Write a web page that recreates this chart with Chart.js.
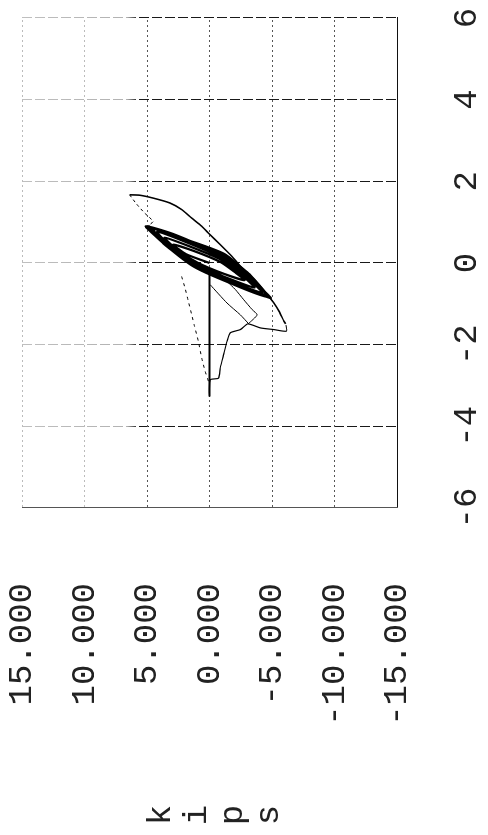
<!DOCTYPE html>
<html>
<head>
<meta charset="utf-8">
<script src="https://cdn.jsdelivr.net/npm/chart.js@4.4.1/dist/chart.umd.min.js"></script>
<style>
  html, body { margin: 0; padding: 0; background: #fff; overflow: hidden; }
  /* o grafico e desenhado deitado e girado 90 graus */
  #quadro {
    position: absolute; left: 0; top: 835px;
    width: 835px; height: 488px;
    transform-origin: 0 0;
    transform: rotate(-90deg);
  }
</style>
</head>
<body>
<div id="quadro"><canvas id="histerese" width="835" height="488"></canvas></div>
<script>
const X_TICKS = [-6, -4, -2, 0, 2, 4, 6];
const Y_TICKS = [-15, -10, -5, 0, 5, 10, 15];
const TITULO_Y = ['k', 'i', 'p', 's'];

// [deslocamento (in), carga (kips)]
const ciclosPequenos = [
  [0, 0], [0.22, 1.9], [0.45, 2.9], [0.30, 1.3], [0.02, -0.9], [-0.24, -2.1], [-0.42, -2.8], [-0.27, -1.2], [0.0, 0.9], [0.30, 2.5],
  [0.62, 3.6], [0.42, 1.7], [0.10, -0.8], [-0.30, -2.6], [-0.60, -3.6], [-0.40, -1.7], [-0.05, 1.0], [0.36, 2.9],
  [0.76, 4.2], [0.54, 2.1], [0.14, -0.9], [-0.35, -3.0], [-0.72, -4.2], [-0.50, -2.1], [-0.08, 1.1], [0.42, 3.3],
  [0.86, 4.8], [0.62, 2.5], [0.20, -1.0], [-0.40, -3.4], [-0.80, -4.6], [-0.57, -2.3], [-0.10, 1.2], [0.46, 3.6],
  [0.88, 5.0], [0.66, 2.7], [0.22, -1.2], [-0.42, -3.6], [-0.83, -4.7], [-0.60, -2.5], [-0.12, 1.0], [0.48, 3.7],
  [0.84, 4.5], [0.70, 3.2], [0.35, 0.2], [-0.10, -2.2], [-0.55, -3.9], [-0.78, -4.5], [-0.62, -3.0], [-0.25, -0.6], [0.15, 1.9], [0.55, 3.9],
  [0.90, 5.1], [0.72, 3.0], [0.30, -0.2], [-0.20, -2.7], [-0.70, -4.4], [-0.86, -4.9], [-0.66, -3.2], [-0.30, -0.9], [0.10, 1.6], [0.60, 4.0], [0.92, 4.9]
];
const escorregamento = [[-0.2, 0], [-3.27, 0]];
const retorno = [
  [-3.27, 0], [-2.86, -0.05], [-2.82, -0.72], [-2.57, -0.86], [-2.24, -1.13], [-1.92, -1.40], [-1.71, -1.66],
  [-1.63, -2.47], [-1.49, -3.06], [-1.59, -4.08], [-1.63, -5.15], [-1.67, -6.15], [-1.52, -6.12]
];
const envoltoria = [
  [-1.49, -6.09], [-1.43, -5.96], [-1.18, -5.56], [-0.98, -5.15], [-0.78, -4.62], [-0.57, -4.08], [-0.29, -3.28],
  [-0.08, -2.47], [0.16, -1.80], [0.45, -0.86], [0.73, 0.08], [0.90, 0.62], [1.10, 1.42], [1.31, 2.23],
  [1.47, 3.17], [1.59, 4.51], [1.66, 5.58], [1.67, 6.39]
];
const descarga = [[1.67, 6.39], [1.45, 5.85], [1.22, 5.18], [1.02, 4.51], [0.94, 4.78]];
const diagonal = [
  [-0.33, 2.23], [-0.61, 1.96], [-0.94, 1.69], [-1.27, 1.42], [-1.51, 1.23], [-1.92, 0.89], [-2.33, 0.62], [-2.65, 0.35], [-2.90, 0.08]
];
const ramoV1 = [[-0.53, -0.05], [-0.98, -1.40], [-1.27, -2.47], [-1.49, -3.14]];
const ramoV2 = [[-1.49, -3.10], [-1.27, -3.81], [-1.14, -3.41], [-0.90, -2.74], [-0.65, -2.07], [-0.45, -1.40]];

const pontos = arr => arr.map(p => ({ x: p[0], y: p[1] }));

function serie(arr, largura, tracejado) {
  return {
    data: pontos(arr),
    showLine: true,
    borderColor: '#000',
    borderWidth: largura,
    borderDash: tracejado || [],
    pointRadius: 0,
    tension: 0.2,
    fill: false
  };
}

// linhas verticais mais apagadas na parte de cima do grafico
function corGradeX(ctx) {
  const area = ctx.chart.chartArea;
  if (!area) return '#111';
  const g = ctx.chart.ctx.createLinearGradient(0, area.top, 0, area.bottom);
  g.addColorStop(0, 'rgba(0,0,0,0.25)');
  g.addColorStop(0.28, 'rgba(0,0,0,0.3)');
  g.addColorStop(0.31, 'rgba(0,0,0,0.9)');
  g.addColorStop(1, 'rgba(0,0,0,0.9)');
  return g;
}

// letras do titulo empilhadas na vertical
const tituloVertical = {
  id: 'tituloVertical',
  afterDraw(chart) {
    const ctx = chart.ctx;
    ctx.save();
    ctx.font = '34px "Liberation Mono"';
    ctx.fillStyle = '#222';
    ctx.textAlign = 'center';
    ctx.textBaseline = 'alphabetic';
    TITULO_Y.forEach((letra, i) => ctx.fillText(letra, 20, 170 + i * 36));
    ctx.restore();
  }
};

const fonteEixo = { family: 'Liberation Mono', size: 34 };

new Chart(document.getElementById('histerese').getContext('2d'), {
  type: 'scatter',
  data: {
    datasets: [
      serie(ciclosPequenos, 2.2),
      serie(escorregamento, 2),
      serie(retorno, 1.2),
      serie(envoltoria, 1.6),
      serie(descarga, 1, [3, 3]),
      serie(diagonal, 1, [3, 4]),
      serie(ramoV1, 1),
      serie(ramoV2, 1)
    ]
  },
  options: {
    responsive: false,
    animation: false,
    devicePixelRatio: 1,
    layout: { padding: { left: 0, right: 18, top: 22, bottom: 0 } },
    plugins: { legend: { display: false }, tooltip: { enabled: false } },
    scales: {
      x: {
        type: 'linear',
        min: -6, max: 6,
        afterBuildTicks: s => { s.ticks = X_TICKS.map(v => ({ value: v })); },
        afterFit: s => { s.height = 91; s.paddingLeft = 0; s.paddingRight = 0; },
        ticks: { color: '#222', font: fonteEixo, padding: 50, maxRotation: 0, callback: v => String(v) },
        grid: { color: corGradeX, lineWidth: 1, drawTicks: false },
        border: { color: '#111', dash: [10, 3] }
      },
      y: {
        type: 'linear',
        min: -15, max: 15,
        afterBuildTicks: s => { s.ticks = Y_TICKS.map(v => ({ value: v })); },
        afterFit: s => { s.width = 327; s.paddingTop = 0; s.paddingBottom = 0; },
        ticks: { color: '#222', font: fonteEixo, padding: 75, callback: v => v.toFixed(3) },
        grid: { color: c => (c.tick && c.tick.value >= 10 ? '#bbb' : '#555'), lineWidth: 1, drawTicks: false },
        border: { color: '#555', dash: [2, 3] }
      }
    }
  },
  plugins: [tituloVertical]
});
</script>
</body>
</html>
